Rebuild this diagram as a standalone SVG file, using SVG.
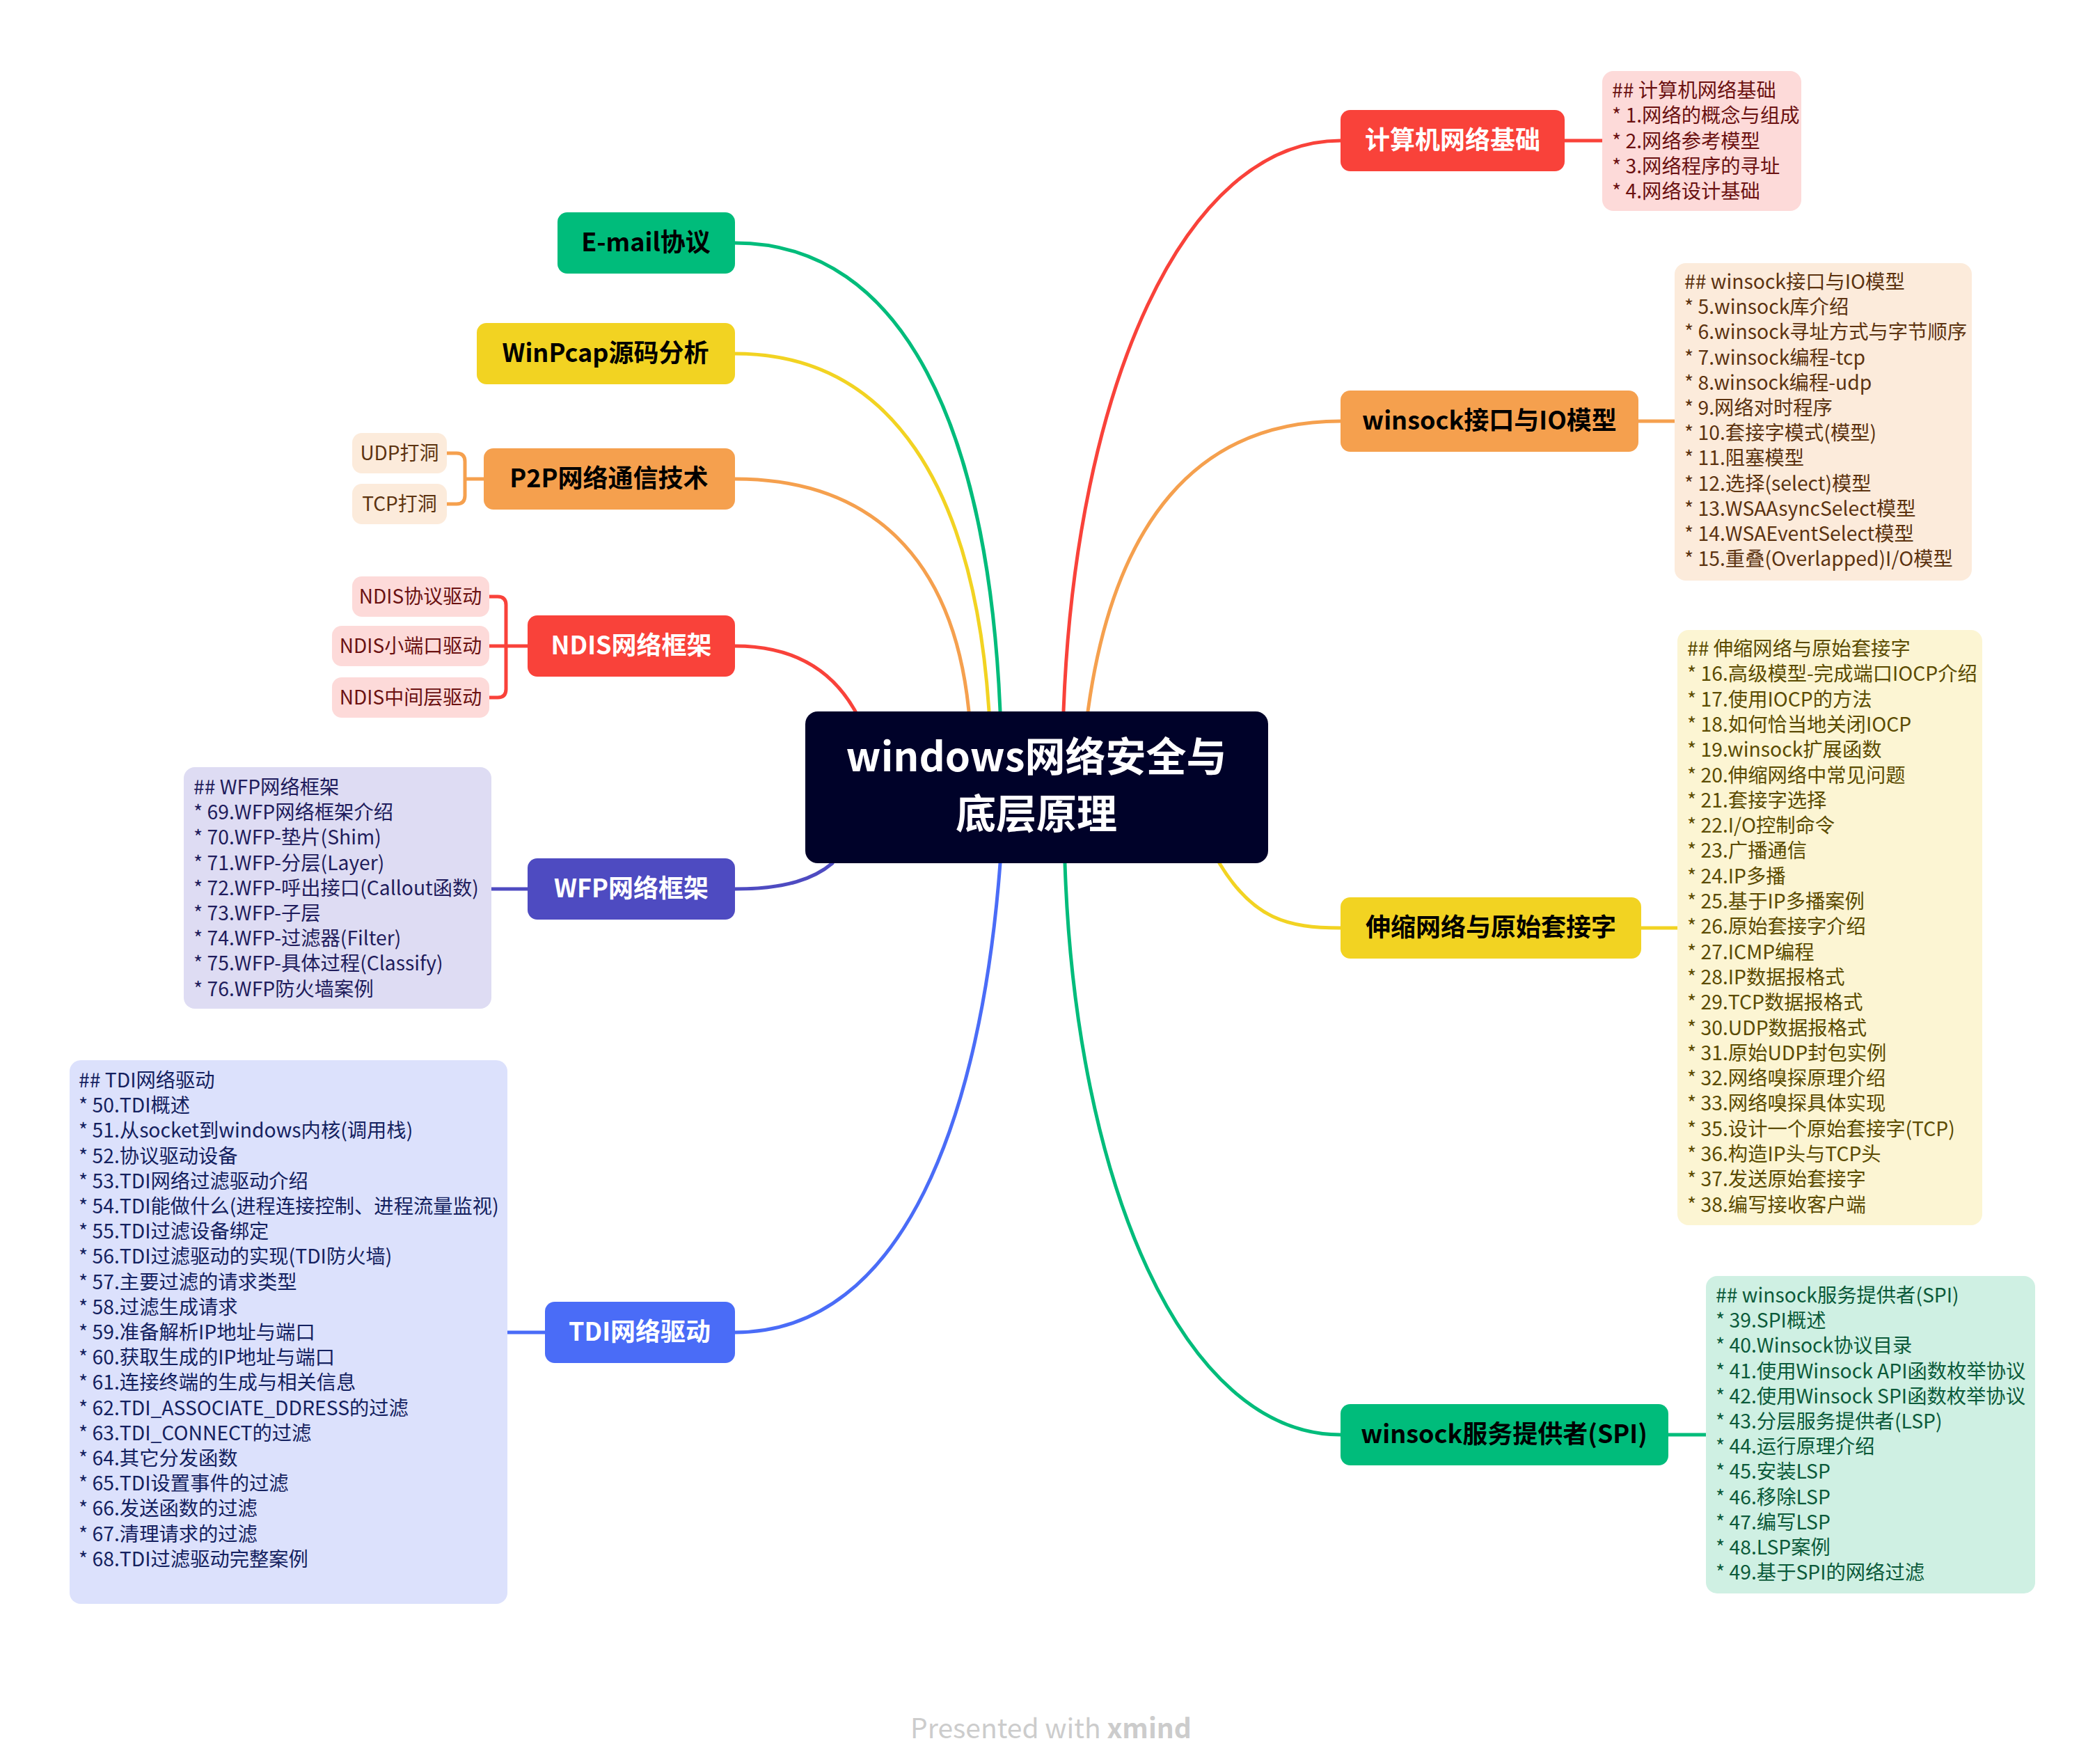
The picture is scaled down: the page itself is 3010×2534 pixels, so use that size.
<svg xmlns="http://www.w3.org/2000/svg" width="3010" height="2534" viewBox="0 0 3010 2534">
<style>
text{font-family:"Noto Sans CJK SC","Noto Sans",sans-serif}
.t{font-size:36px;font-weight:700;text-anchor:middle}
.w{fill:#ffffff}
.k{fill:#000000}
.c{fill:none;stroke-width:5;stroke-linecap:round}
.n{font-size:28.3px}
.s{font-size:28px;text-anchor:middle}
</style>
<rect width="3010" height="2534" fill="#ffffff"/>
<g id="connectors">
<path class="c" stroke="#F9423A" d="M1528,1022 C1545,560 1700,202 1926,202"/>
<path class="c" stroke="#F5A04E" d="M1563,1022 C1600,750 1720,605 1926,605"/>
<path class="c" stroke="#F2D322" d="M1752,1240 C1800,1320 1850,1333 1926,1333"/>
<path class="c" stroke="#00BC7B" d="M1530,1240 C1545,1700 1700,2061 1926,2061"/>
<path class="c" stroke="#00BC7B" d="M1056,349 C1300,349 1420,620 1437,1022"/>
<path class="c" stroke="#F2D322" d="M1056,508 C1280,508 1400,700 1421,1022"/>
<path class="c" stroke="#F5A04E" d="M1056,688 C1250,688 1370,800 1392,1022"/>
<path class="c" stroke="#F9423A" d="M1056,928 C1150,928 1200,970 1229,1022"/>
<path class="c" stroke="#4E4BC1" d="M1056,1277 C1130,1277 1170,1262 1196,1240"/>
<path class="c" stroke="#4A6CF7" d="M1056,1914 C1300,1914 1410,1600 1437,1240"/>
<path class="c" stroke="#F9423A" d="M2248,202 H2302"/>
<path class="c" stroke="#F5A04E" d="M2354,605 H2406"/>
<path class="c" stroke="#F2D322" d="M2358,1333 H2410"/>
<path class="c" stroke="#00BC7B" d="M2397,2061 H2451"/>
<path class="c" stroke="#4E4BC1" d="M706,1277 H758"/>
<path class="c" stroke="#4A6CF7" d="M729,1914 H783"/>
<path class="c" stroke="#F5A04E" d="M695,688 H668 M642,651 H656 Q668,651 668,663 V712 Q668,724 656,724 H642"/>
<path class="c" stroke="#F9423A" d="M758,928 H703 M703,857 H715 Q727,857 727,869 V990 Q727,1002 715,1002 H703"/>
</g>
<g id="center">
<rect x="1157" y="1022" width="665" height="218" rx="18" fill="#000229"/>
<text x="1489" y="1108" font-size="58" font-weight="700" text-anchor="middle" fill="#ffffff">windows网络安全与</text>
<text x="1489" y="1190" font-size="58" font-weight="700" text-anchor="middle" fill="#ffffff">底层原理</text>
</g>
<g id="n-jsj">
<rect x="1926" y="158" width="322" height="88" rx="14" fill="#F9423A"/>
<text class="t w" x="2087" y="214">计算机网络基础</text>
</g>
<g id="note-jsj">
<rect x="2302" y="102" width="286" height="201" rx="16" fill="#FDDAD9"/>
<text class="n" fill="#6B1111"><tspan x="2316" y="140">## 计算机网络基础</tspan><tspan x="2316" dy="36.3">* 1.网络的概念与组成</tspan><tspan x="2316" dy="36.3">* 2.网络参考模型</tspan><tspan x="2316" dy="36.3">* 3.网络程序的寻址</tspan><tspan x="2316" dy="36.3">* 4.网络设计基础</tspan></text>
</g>
<g id="n-winsock">
<rect x="1926" y="561" width="428" height="88" rx="14" fill="#F5A04E"/>
<text class="t k" x="2140" y="617">winsock接口与IO模型</text>
</g>
<g id="note-winsock">
<rect x="2406" y="378" width="427" height="456" rx="16" fill="#FCEBDB"/>
<text class="n" fill="#5C3310"><tspan x="2420" y="415">## winsock接口与IO模型</tspan><tspan x="2420" dy="36.2">* 5.winsock库介绍</tspan><tspan x="2420" dy="36.2">* 6.winsock寻址方式与字节顺序</tspan><tspan x="2420" dy="36.2">* 7.winsock编程-tcp</tspan><tspan x="2420" dy="36.2">* 8.winsock编程-udp</tspan><tspan x="2420" dy="36.2">* 9.网络对时程序</tspan><tspan x="2420" dy="36.2">* 10.套接字模式(模型)</tspan><tspan x="2420" dy="36.2">* 11.阻塞模型</tspan><tspan x="2420" dy="36.2">* 12.选择(select)模型</tspan><tspan x="2420" dy="36.2">* 13.WSAAsyncSelect模型</tspan><tspan x="2420" dy="36.2">* 14.WSAEventSelect模型</tspan><tspan x="2420" dy="36.2">* 15.重叠(Overlapped)I/O模型</tspan></text>
</g>
<g id="n-shensuo">
<rect x="1926" y="1289" width="432" height="88" rx="14" fill="#F2D322"/>
<text class="t k" x="2142" y="1345">伸缩网络与原始套接字</text>
</g>
<g id="note-shensuo">
<rect x="2410" y="905" width="438" height="855" rx="16" fill="#FCF5D3"/>
<text class="n" fill="#5B4B00"><tspan x="2424" y="942">## 伸缩网络与原始套接字</tspan><tspan x="2424" dy="36.3">* 16.高级模型-完成端口IOCP介绍</tspan><tspan x="2424" dy="36.3">* 17.使用IOCP的方法</tspan><tspan x="2424" dy="36.3">* 18.如何恰当地关闭IOCP</tspan><tspan x="2424" dy="36.3">* 19.winsock扩展函数</tspan><tspan x="2424" dy="36.3">* 20.伸缩网络中常见问题</tspan><tspan x="2424" dy="36.3">* 21.套接字选择</tspan><tspan x="2424" dy="36.3">* 22.I/O控制命令</tspan><tspan x="2424" dy="36.3">* 23.广播通信</tspan><tspan x="2424" dy="36.3">* 24.IP多播</tspan><tspan x="2424" dy="36.3">* 25.基于IP多播案例</tspan><tspan x="2424" dy="36.3">* 26.原始套接字介绍</tspan><tspan x="2424" dy="36.3">* 27.ICMP编程</tspan><tspan x="2424" dy="36.3">* 28.IP数据报格式</tspan><tspan x="2424" dy="36.3">* 29.TCP数据报格式</tspan><tspan x="2424" dy="36.3">* 30.UDP数据报格式</tspan><tspan x="2424" dy="36.3">* 31.原始UDP封包实例</tspan><tspan x="2424" dy="36.3">* 32.网络嗅探原理介绍</tspan><tspan x="2424" dy="36.3">* 33.网络嗅探具体实现</tspan><tspan x="2424" dy="36.3">* 35.设计一个原始套接字(TCP)</tspan><tspan x="2424" dy="36.3">* 36.构造IP头与TCP头</tspan><tspan x="2424" dy="36.3">* 37.发送原始套接字</tspan><tspan x="2424" dy="36.3">* 38.编写接收客户端</tspan></text>
</g>
<g id="n-spi">
<rect x="1926" y="2017" width="471" height="88" rx="14" fill="#00BC7B"/>
<text class="t k" x="2161" y="2073">winsock服务提供者(SPI)</text>
</g>
<g id="note-spi">
<rect x="2451" y="1833" width="473" height="456" rx="16" fill="#CFF0E3"/>
<text class="n" fill="#0B5A3A"><tspan x="2465" y="1871">## winsock服务提供者(SPI)</tspan><tspan x="2465" dy="36.2">* 39.SPI概述</tspan><tspan x="2465" dy="36.2">* 40.Winsock协议目录</tspan><tspan x="2465" dy="36.2">* 41.使用Winsock API函数枚举协议</tspan><tspan x="2465" dy="36.2">* 42.使用Winsock SPI函数枚举协议</tspan><tspan x="2465" dy="36.2">* 43.分层服务提供者(LSP)</tspan><tspan x="2465" dy="36.2">* 44.运行原理介绍</tspan><tspan x="2465" dy="36.2">* 45.安装LSP</tspan><tspan x="2465" dy="36.2">* 46.移除LSP</tspan><tspan x="2465" dy="36.2">* 47.编写LSP</tspan><tspan x="2465" dy="36.2">* 48.LSP案例</tspan><tspan x="2465" dy="36.2">* 49.基于SPI的网络过滤</tspan></text>
</g>
<g id="n-email">
<rect x="801" y="305" width="255" height="88" rx="14" fill="#00BC7B"/>
<text class="t k" x="928" y="361">E-mail协议</text>
</g>
<g id="n-winpcap">
<rect x="685" y="464" width="371" height="88" rx="14" fill="#F2D322"/>
<text class="t k" x="870" y="520">WinPcap源码分析</text>
</g>
<g id="n-p2p">
<rect x="695" y="644" width="361" height="88" rx="14" fill="#F5A04E"/>
<text class="t k" x="875" y="700">P2P网络通信技术</text>
</g>
<g id="n-udp">
<rect x="506" y="622" width="136" height="58" rx="14" fill="#FCEBDB"/>
<text class="s" x="574" y="661" fill="#5C3310">UDP打洞</text>
</g>
<g id="n-tcp">
<rect x="506" y="695" width="136" height="58" rx="14" fill="#FCEBDB"/>
<text class="s" x="574" y="734" fill="#5C3310">TCP打洞</text>
</g>
<g id="n-ndis">
<rect x="758" y="884" width="298" height="88" rx="14" fill="#F9423A"/>
<text class="t w" x="907" y="940">NDIS网络框架</text>
</g>
<g id="n-ndis1">
<rect x="506" y="828" width="197" height="58" rx="14" fill="#FDDAD9"/>
<text class="s" x="604" y="867" fill="#6B1111">NDIS协议驱动</text>
</g>
<g id="n-ndis2">
<rect x="477" y="899" width="226" height="58" rx="14" fill="#FDDAD9"/>
<text class="s" x="590" y="938" fill="#6B1111">NDIS小端口驱动</text>
</g>
<g id="n-ndis3">
<rect x="477" y="973" width="226" height="58" rx="14" fill="#FDDAD9"/>
<text class="s" x="590" y="1012" fill="#6B1111">NDIS中间层驱动</text>
</g>
<g id="n-wfp">
<rect x="758" y="1233" width="298" height="88" rx="14" fill="#4E4BC1"/>
<text class="t w" x="907" y="1289">WFP网络框架</text>
</g>
<g id="note-wfp">
<rect x="264" y="1102" width="442" height="347" rx="16" fill="#DEDCF3"/>
<text class="n" fill="#1F1C5C"><tspan x="278" y="1141">## WFP网络框架</tspan><tspan x="278" dy="36.2">* 69.WFP网络框架介绍</tspan><tspan x="278" dy="36.2">* 70.WFP-垫片(Shim)</tspan><tspan x="278" dy="36.2">* 71.WFP-分层(Layer)</tspan><tspan x="278" dy="36.2">* 72.WFP-呼出接口(Callout函数)</tspan><tspan x="278" dy="36.2">* 73.WFP-子层</tspan><tspan x="278" dy="36.2">* 74.WFP-过滤器(Filter)</tspan><tspan x="278" dy="36.2">* 75.WFP-具体过程(Classify)</tspan><tspan x="278" dy="36.2">* 76.WFP防火墙案例</tspan></text>
</g>
<g id="n-tdi">
<rect x="783" y="1870" width="273" height="88" rx="14" fill="#4A6CF7"/>
<text class="t w" x="919" y="1926">TDI网络驱动</text>
</g>
<g id="note-tdi">
<rect x="100" y="1523" width="629" height="781" rx="16" fill="#DCE1FC"/>
<text class="n" fill="#14215F"><tspan x="113" y="1562">## TDI网络驱动</tspan><tspan x="113" dy="36.2">* 50.TDI概述</tspan><tspan x="113" dy="36.2">* 51.从socket到windows内核(调用栈)</tspan><tspan x="113" dy="36.2">* 52.协议驱动设备</tspan><tspan x="113" dy="36.2">* 53.TDI网络过滤驱动介绍</tspan><tspan x="113" dy="36.2">* 54.TDI能做什么(进程连接控制、进程流量监视)</tspan><tspan x="113" dy="36.2">* 55.TDI过滤设备绑定</tspan><tspan x="113" dy="36.2">* 56.TDI过滤驱动的实现(TDI防火墙)</tspan><tspan x="113" dy="36.2">* 57.主要过滤的请求类型</tspan><tspan x="113" dy="36.2">* 58.过滤生成请求</tspan><tspan x="113" dy="36.2">* 59.准备解析IP地址与端口</tspan><tspan x="113" dy="36.2">* 60.获取生成的IP地址与端口</tspan><tspan x="113" dy="36.2">* 61.连接终端的生成与相关信息</tspan><tspan x="113" dy="36.2">* 62.TDI_ASSOCIATE_DDRESS的过滤</tspan><tspan x="113" dy="36.2">* 63.TDI_CONNECT的过滤</tspan><tspan x="113" dy="36.2">* 64.其它分发函数</tspan><tspan x="113" dy="36.2">* 65.TDI设置事件的过滤</tspan><tspan x="113" dy="36.2">* 66.发送函数的过滤</tspan><tspan x="113" dy="36.2">* 67.清理请求的过滤</tspan><tspan x="113" dy="36.2">* 68.TDI过滤驱动完整案例</tspan></text>
</g>
<g id="footer">
<text x="1510" y="2497" font-size="39" text-anchor="middle" fill="#CCCCCC">Presented with <tspan font-weight="700">xmind</tspan></text>
</g>
</svg>
